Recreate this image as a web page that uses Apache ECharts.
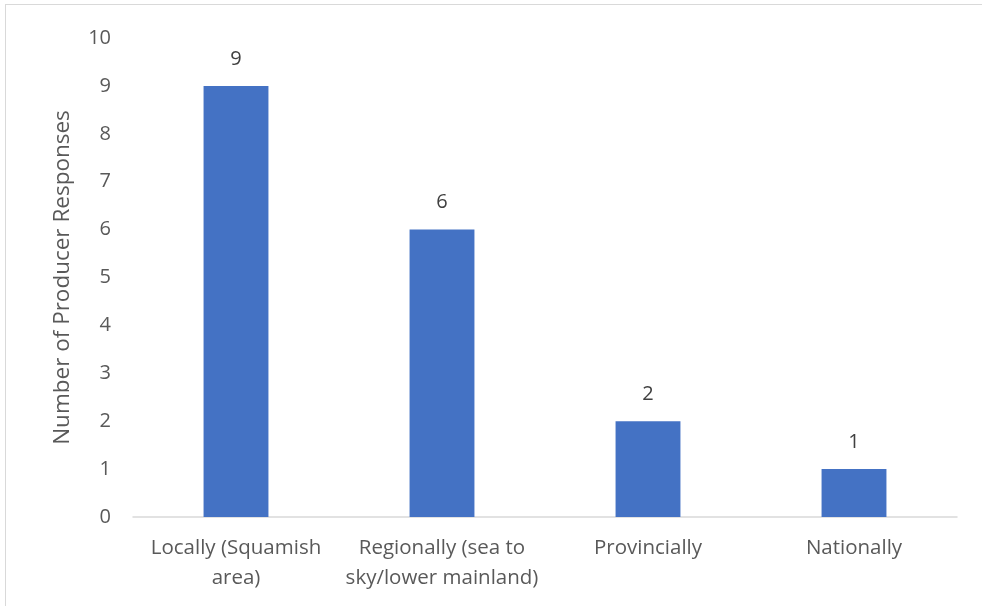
<!DOCTYPE html>
<html>
<head>
<meta charset="utf-8">
<script src="https://cdn.jsdelivr.net/npm/echarts@6/dist/echarts.min.js"></script>
<style>
  html, body { margin: 0; padding: 0; background: #fff; }
  #frame { position: absolute; left: 5px; top: 4px; width: 990px; height: 620px; border: 1px solid #d9d9d9; box-sizing: border-box; }
  #chart { position: absolute; left: 0; top: 0; width: 982px; height: 606px; }
</style>
</head>
<body>
<div id="frame"></div>
<div id="chart"></div>
<script>
const categories = ['Locally (Squamish\narea)', 'Regionally (sea to\nsky/lower mainland)', 'Provincially', 'Nationally']
const responses = [9, 6, 2, 1]
const yTicks = { min: 0, max: 10, interval: 1 }

let myChart = echarts.init(document.getElementById('chart'), null, { renderer: 'canvas' })
myChart.setOption({
  backgroundColor: 'transparent',
  textStyle: { fontFamily: 'Open Sans' },
  grid: { left: 133, right: 25, top: 38, bottom: 89 },
  xAxis: {
    type: 'category',
    data: categories,
    axisLine: { lineStyle: { color: '#d9d9d9', width: 1.5 } },
    axisTick: { show: false },
    axisLabel: { color: '#595959', fontSize: 20.5, lineHeight: 30, margin: 16, interval: 0 }
  },
  yAxis: {
    type: 'value',
    min: yTicks.min,
    max: yTicks.max,
    interval: yTicks.interval,
    name: 'Number of Producer Responses',
    nameLocation: 'middle',
    nameRotate: 90,
    nameGap: 59,
    nameTextStyle: { color: '#595959', fontSize: 22.5 },
    axisLine: { show: false },
    axisTick: { show: false },
    splitLine: { show: false },
    axisLabel: { color: '#595959', fontSize: 20, margin: 22 }
  },
  series: [{
    type: 'bar',
    data: responses,
    barWidth: '31.5%',
    itemStyle: { color: '#4472c4' },
    label: { show: true, position: 'top', distance: 17, color: '#404040', fontSize: 20 }
  }]
})
</script>
</body>
</html>
